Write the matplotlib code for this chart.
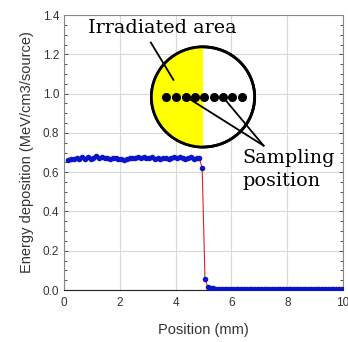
import numpy as np
import matplotlib.pyplot as plt
from matplotlib.patches import Ellipse, Rectangle
from matplotlib.ticker import MultipleLocator

# positions (mm)
position = [0.15, 0.25, 0.35, 0.45, 0.55, 0.65, 0.75, 0.85, 0.95, 1.05,
            1.15, 1.25, 1.35, 1.45, 1.55, 1.65, 1.75, 1.85, 1.95, 2.05,
            2.15, 2.25, 2.35, 2.45, 2.55, 2.65, 2.75, 2.85, 2.95, 3.05,
            3.15, 3.25, 3.35, 3.45, 3.55, 3.65, 3.75, 3.85, 3.95, 4.05,
            4.15, 4.25, 4.35, 4.45, 4.55, 4.65, 4.75, 4.85, 4.95, 5.05,
            5.15, 5.25, 5.35, 5.45, 5.55, 5.65, 5.75, 5.85, 5.95, 6.05,
            6.15, 6.25, 6.35, 6.45, 6.55, 6.65, 6.75, 6.85, 6.95, 7.05,
            7.15, 7.25, 7.35, 7.45, 7.55, 7.65, 7.75, 7.85, 7.95, 8.05,
            8.15, 8.25, 8.35, 8.45, 8.55, 8.65, 8.75, 8.85, 8.95, 9.05,
            9.15, 9.25, 9.35, 9.45, 9.55, 9.65, 9.75, 9.85, 9.95]
# energy deposition (MeV/cm3/source)
energy = [0.662, 0.668, 0.665, 0.671, 0.668, 0.675, 0.667, 0.678, 0.669, 0.673,
          0.680, 0.672, 0.675, 0.670, 0.673, 0.668, 0.671, 0.674, 0.667, 0.669,
          0.664, 0.666, 0.671, 0.673, 0.670, 0.676, 0.672, 0.679, 0.674, 0.671,
          0.676, 0.669, 0.673, 0.666, 0.670, 0.674, 0.668, 0.672, 0.675, 0.670,
          0.677, 0.671, 0.669, 0.674, 0.676, 0.668, 0.672, 0.670, 0.620, 0.056,
          0.016, 0.010, 0.008, 0.007, 0.006, 0.006, 0.005, 0.005, 0.005, 0.005,
          0.005, 0.005, 0.005, 0.005, 0.005, 0.005, 0.005, 0.005, 0.005, 0.005,
          0.005, 0.005, 0.005, 0.005, 0.005, 0.005, 0.005, 0.005, 0.005, 0.005,
          0.005, 0.005, 0.005, 0.005, 0.005, 0.005, 0.005, 0.005, 0.005, 0.005,
          0.005, 0.005, 0.005, 0.005, 0.005, 0.005, 0.005, 0.005, 0.005]

# inset sketch: sampling dots in the circle
sample_x = [3.66, 4.01, 4.36, 4.68, 5.02, 5.36, 5.68, 6.03, 6.37]
sample_y = 0.985


def main():
    plt.rcParams['font.family'] = ['Liberation Sans', 'DejaVu Sans']
    fig = plt.figure(figsize=(3.48, 3.42), dpi=100)
    ax = fig.add_axes([0.184, 0.152, 0.802, 0.804])

    ax.plot(position, energy, color='#dd2222', lw=0.8, zorder=3,
            marker='o', ms=4, mfc='#0a14c8', mec='#0a14c8', mew=0)

    ax.set_xlim(0, 10)
    ax.set_ylim(0, 1.4)
    ax.xaxis.set_major_locator(MultipleLocator(2))
    ax.yaxis.set_major_locator(MultipleLocator(0.2))
    ax.yaxis.set_minor_locator(MultipleLocator(0.05))
    ax.yaxis.set_major_formatter(plt.FormatStrFormatter('%.1f'))
    ax.grid(True, color='#d8d8d8', lw=0.8)
    ax.set_axisbelow(True)
    ax.tick_params(which='both', direction='in', right=True, labelsize=8.5,
                   colors='#333333', length=3, width=0.6)
    ax.tick_params(which='minor', length=2)
    ax.tick_params(axis='x', which='major', length=0, pad=5)
    for s in ['top', 'right', 'left']:
        ax.spines[s].set_color('#888888')
    ax.spines['bottom'].set_color('#222222')

    ax.set_xlabel('Position (mm)', fontsize=10.5, color='#333333', labelpad=10)
    ax.set_ylabel('Energy deposition (MeV/cm3/source)', fontsize=10.5,
                  color='#333333', labelpad=6)

    # circle sketch
    cx, cy, w, h = 4.98, 0.983, 3.7, 0.51
    circ = Ellipse((cx, cy), w, h, facecolor='white', edgecolor='black',
                   lw=2, zorder=5)
    ax.add_patch(circ)
    half = Rectangle((cx - w / 2, cy - h / 2), w / 2, h, facecolor='#ffff00',
                     edgecolor='none', zorder=5)
    ax.add_patch(half)
    half.set_clip_path(circ)
    ring = Ellipse((cx, cy), w, h, facecolor='none', edgecolor='black',
                   lw=2, zorder=6)
    ax.add_patch(ring)
    ax.plot(sample_x, [sample_y] * len(sample_x), 'o', color='black', ms=5.5,
            zorder=7)

    apex = (7.15, 0.735)
    ax.plot([sample_x[2], apex[0]], [sample_y, apex[1]], color='black',
            lw=1.3, zorder=7)
    ax.plot([sample_x[6], apex[0]], [sample_y, apex[1]], color='black',
            lw=1.3, zorder=7)
    ax.plot([3.11, 3.92], [1.26, 1.07], color='black', lw=1.3, zorder=7)

    ax.text(0.85, 1.335, 'Irradiated area', family='DejaVu Serif', fontsize=13.8,
            va='center', ha='left', zorder=8)
    ax.text(6.38, 0.72, 'Sampling\nposition', family='DejaVu Serif',
            fontsize=13.8, va='top', ha='left', linespacing=1.4, zorder=8)

    fig.savefig('out.png', dpi=100)


if __name__ == "__main__":
    main()
